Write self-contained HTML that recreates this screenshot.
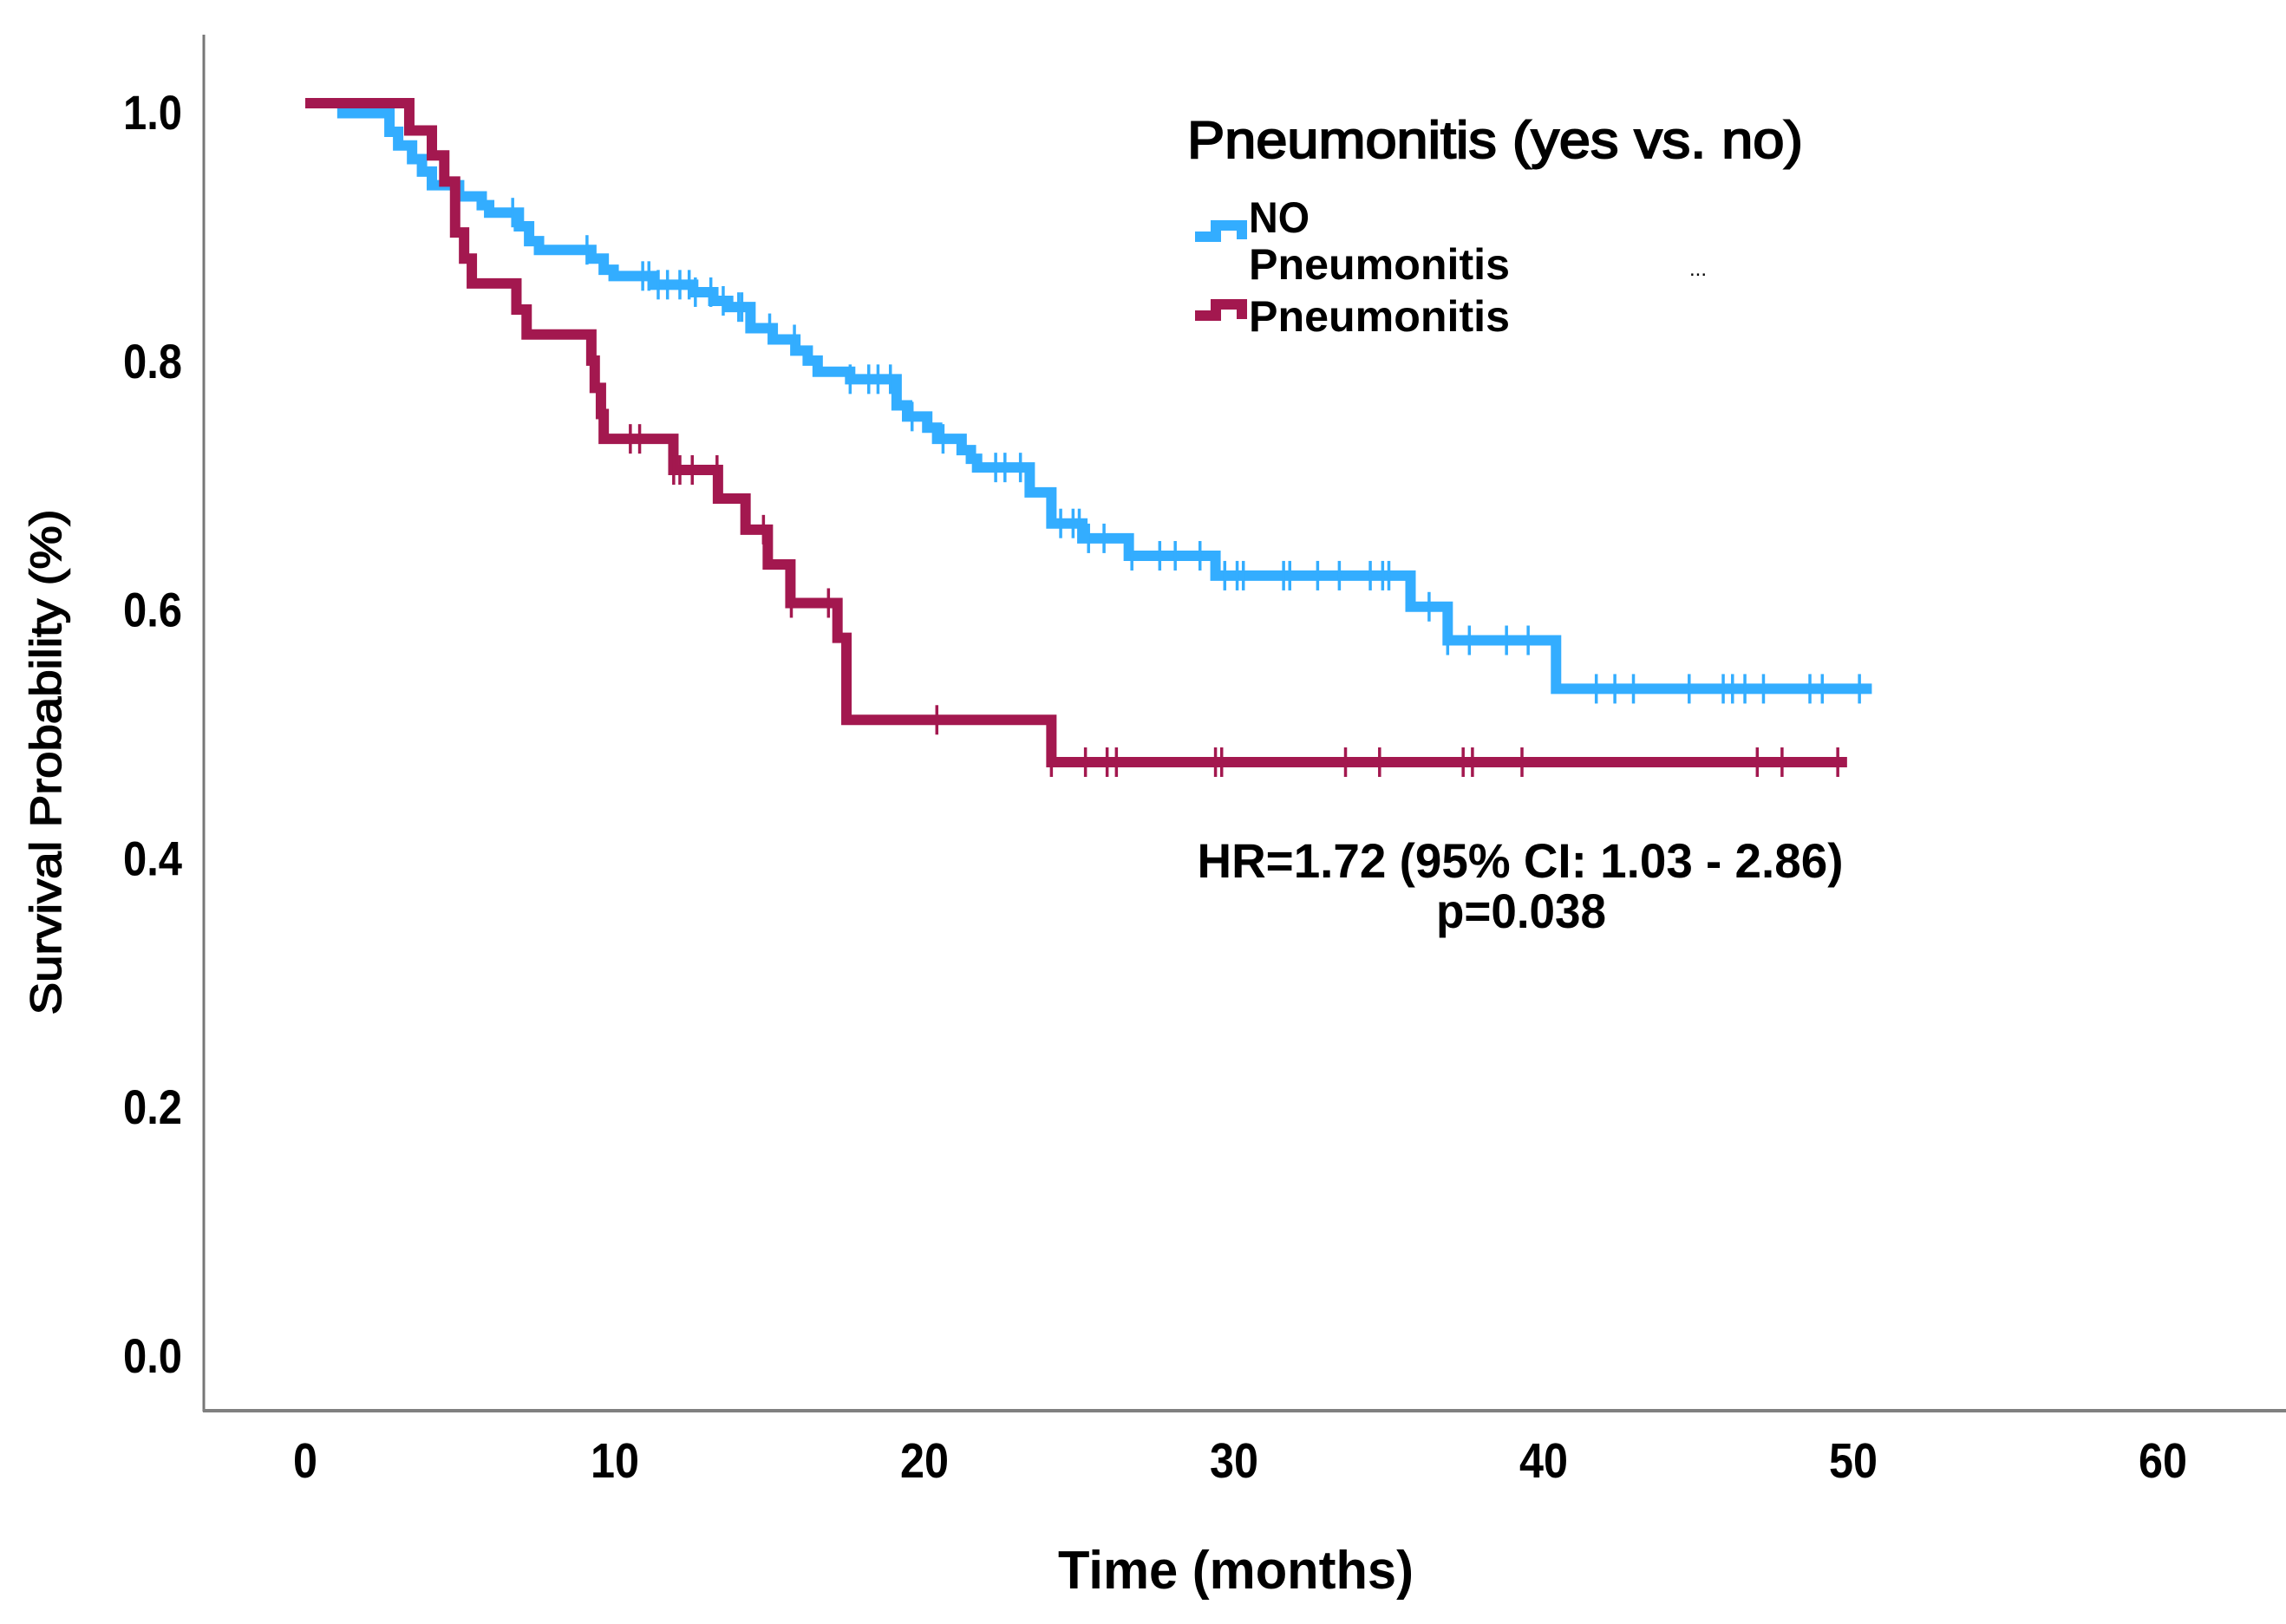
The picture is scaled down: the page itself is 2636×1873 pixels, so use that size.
<!DOCTYPE html>
<html><head><meta charset="utf-8"><style>
html,body{margin:0;padding:0;background:#fff}
svg{display:block}
text{font-family:"Liberation Sans",Arial,sans-serif;font-weight:bold;fill:#000}
</style></head><body>
<svg id="chart" width="2636" height="1873" viewBox="0 0 2636 1873" xmlns="http://www.w3.org/2000/svg">
<rect width="2636" height="1873" fill="#fff"/>
<line x1="235" y1="40" x2="235" y2="1628" stroke="#777" stroke-width="3"/>
<line x1="234" y1="1627" x2="2636" y2="1627" stroke="#808080" stroke-width="4"/>
<g id="yticks"></g>
<g id="xticks"></g>
<g id="series"></g>
<text x="1425" y="1832" text-anchor="middle" font-size="62" textLength="410" lengthAdjust="spacingAndGlyphs">Time (months)</text>
<text transform="translate(70,879) rotate(-90)" x="0" y="0" text-anchor="middle" font-size="50" textLength="583" lengthAdjust="spacingAndGlyphs" style="font-weight:normal" stroke="#000" stroke-width="1.5">Survival Probability (%)</text>
<g>
<text x="1369" y="182" font-size="60" textLength="710" lengthAdjust="spacingAndGlyphs" style="font-weight:normal" stroke="#000" stroke-width="2">Pneumonitis (yes vs. no)</text>
<path d="M1378 273 H1402 V260 H1432 V276" fill="none" stroke="#33adff" stroke-width="12"/>
<text x="1440" y="268" font-size="50" textLength="70" lengthAdjust="spacingAndGlyphs">NO</text>
<text x="1440" y="322" font-size="50" textLength="301" lengthAdjust="spacingAndGlyphs">Pneumonitis</text>
<text x="1948" y="318" font-size="24" style="font-weight:normal">...</text>
<path d="M1378 364 H1402 V351 H1432 V368" fill="none" stroke="#a3184f" stroke-width="12"/>
<text x="1440" y="382" font-size="50" textLength="301" lengthAdjust="spacingAndGlyphs">Pneumonitis</text>
</g>
<text x="1753" y="1012" text-anchor="middle" font-size="56" textLength="745" lengthAdjust="spacingAndGlyphs">HR=1.72 (95% CI: 1.03 - 2.86)</text>
<text x="1754" y="1070" text-anchor="middle" font-size="56" textLength="196" lengthAdjust="spacingAndGlyphs">p=0.038</text>
</svg>
<script>
const xTickLabels = ["0","10","20","30","40","50","60"];
const xTickValues = [0,10,20,30,40,50,60];
const yTickLabels = ["0.0","0.2","0.4","0.6","0.8","1.0"];
const yTickValues = [0,0.2,0.4,0.6,0.8,1.0];

const blueTimes = [1.2,2.72,3.0,3.45,3.77,4.09,4.97,5.7,5.94,6.9,7.23,7.55,9.24,9.64,9.96,11.24,12.53,13.18,13.66,14.38,15.1,15.83,16.23,16.55,17.6,19.1,19.44,20.09,20.41,21.2,21.5,21.7,23.4,24.1,25.1,26.6,29.4,35.7,36.9,40.4];
const blueSurv  = [0.992,0.977,0.966,0.955,0.945,0.934,0.925,0.918,0.912,0.901,0.889,0.882,0.875,0.866,0.861,0.854,0.848,0.841,0.836,0.819,0.810,0.801,0.793,0.784,0.778,0.757,0.748,0.739,0.730,0.721,0.714,0.707,0.687,0.662,0.650,0.636,0.620,0.595,0.568,0.529];
const blueEnd = 50.6;
const blueCensor = [6.7,9.1,10.9,11.1,11.4,11.7,12.1,12.4,12.6,13.1,13.5,14.0,14.1,15.0,15.8,17.6,18.2,18.5,18.9,19.6,20.6,22.3,22.6,23.1,24.4,24.8,25.0,25.3,25.8,26.7,27.6,28.1,28.9,29.7,30.1,30.3,31.6,31.8,32.7,33.4,34.4,34.8,35.0,36.3,36.9,37.6,38.8,39.5,41.7,42.3,42.9,44.7,45.8,46.1,46.5,47.1,48.6,49.0,50.2];

const redTimes = [3.36,4.09,4.49,4.84,5.13,5.38,6.82,7.15,9.24,9.35,9.55,9.64,11.89,13.33,14.22,14.94,15.67,17.19,17.48,24.1];
const redSurv  = [0.978,0.958,0.937,0.896,0.875,0.855,0.834,0.814,0.793,0.771,0.750,0.730,0.705,0.682,0.657,0.629,0.598,0.570,0.504,0.470];
const redEnd = 49.8;
const redCensor = [10.5,10.8,11.9,12.1,12.5,13.3,14.8,15.7,16.9,20.4,24.1,25.2,25.9,26.2,29.4,29.6,33.6,34.7,37.4,37.7,39.3,46.9,47.7,49.5];

const NS = "http://www.w3.org/2000/svg";
function xs(t){ return 352 + t * 35.7; }
function ys(v){ return 1553 - v * 1434; }

const yg = document.getElementById('yticks');
yTickValues.forEach((v,i)=>{
  const t = document.createElementNS(NS,'text');
  
  
  t.setAttribute('x',210); t.setAttribute('y',ys(v)+10+20);
  t.setAttribute('text-anchor','end'); t.setAttribute('font-size','56');
  t.setAttribute('textLength','68'); t.setAttribute('lengthAdjust','spacingAndGlyphs');
  t.textContent = yTickLabels[i]; yg.appendChild(t);
});
const xg = document.getElementById('xticks');
xTickValues.forEach((v,i)=>{
  const t = document.createElementNS(NS,'text');
  
  
  t.setAttribute('x',xs(v)); t.setAttribute('y',1704);
  t.setAttribute('text-anchor','middle'); t.setAttribute('font-size','57');
  t.setAttribute('textLength', xTickLabels[i].length===1 ? 28 : 56);
  t.setAttribute('lengthAdjust','spacingAndGlyphs');
  t.textContent = xTickLabels[i]; xg.appendChild(t);
});

function survAt(times, surv, t){
  let v = 1;
  for (let i=0;i<times.length;i++){ if (times[i] <= t) v = surv[i]; }
  return v;
}
function drawSeries(times, surv, end, censor, color, name){
  const g = document.getElementById('series');
  let d = 'M' + xs(0) + ' ' + ys(1);
  for (let i=0;i<times.length;i++){
    d += ' H' + xs(times[i]) + ' V' + ys(surv[i]);
  }
  d += ' H' + xs(end);
  const p = document.createElementNS(NS,'path');
  
  
  p.setAttribute('d', d); p.setAttribute('fill','none');
  p.setAttribute('stroke', color); p.setAttribute('stroke-width','12');
  p.setAttribute('stroke-linejoin','miter');
  g.appendChild(p);
  censor.forEach(c=>{
    const v = survAt(times, surv, c);
    const l = document.createElementNS(NS,'line');
    
    
    l.setAttribute('x1',xs(c)); l.setAttribute('x2',xs(c));
    l.setAttribute('y1',ys(v)-17); l.setAttribute('y2',ys(v)+17);
    l.setAttribute('stroke',color); l.setAttribute('stroke-width','3.5');
    g.appendChild(l);
  });
}
drawSeries(blueTimes, blueSurv, blueEnd, blueCensor, '#33adff', 'no-pneumonitis');
drawSeries(redTimes, redSurv, redEnd, redCensor, '#a3184f', 'pneumonitis');
</script>
</body></html>
